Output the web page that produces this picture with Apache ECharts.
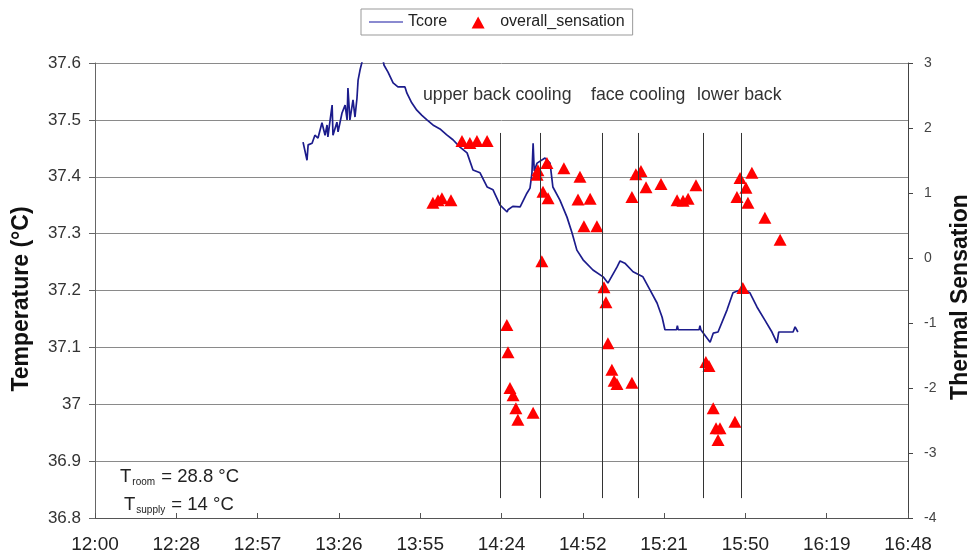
<!DOCTYPE html>
<html>
<head>
<meta charset="utf-8">
<script src="https://cdn.jsdelivr.net/npm/echarts@6/dist/echarts.min.js"></script>
<style>
  html, body { margin: 0; padding: 0; background: #fff; }
  #chart { width: 976px; height: 560px; }
</style>
</head>
<body>
<div id="chart"></div>
<script>
// ---- Data (time = minutes after 12:00) ----
const xTickLabels = ['12:00','12:28','12:57','13:26','13:55','14:24','14:52','15:21','15:50','16:19','16:48'];

const tcoreTime = [73.7,75.1,75.5,76.9,77.9,79.0,80.4,81.5,82.2,82.5,84.0,84.3,85.7,86.1,87.5,88.6,89.3,89.6,90.3,91.4,92.1,92.8,93.2,93.9,96,99,101,102.4,103.8,105.6,107.3,109.8,110.5,112.2,114.0,115.8,117.6,120.0,122.2,124.5,126.8,129.3,131.8,133.9,136.4,138.9,141.0,143.5,146.0,146.3,148.0,150.6,153.0,154.1,154.8,155.2,155.6,156.6,159.4,161.2,162.2,164.7,167.2,169.0,170.7,172.9,176.4,180.0,181.7,184.9,186.0,187.7,190.6,194.1,196.6,199.1,200.9,201.9,206.0,206.3,206.6,214.0,214.3,214.6,217.9,219.0,220.7,223.9,226.0,228.5,230.0,232.0,234.5,237.3,239.8,241.6,242.2,242.7,247.3,248.0,249.0];
const tcoreTemp = [37.461,37.429,37.456,37.459,37.473,37.468,37.495,37.473,37.491,37.470,37.526,37.473,37.496,37.479,37.512,37.526,37.500,37.556,37.500,37.535,37.505,37.538,37.570,37.588,37.63,37.66,37.63,37.596,37.584,37.565,37.558,37.558,37.547,37.530,37.517,37.508,37.500,37.490,37.484,37.474,37.465,37.452,37.442,37.412,37.407,37.382,37.377,37.350,37.338,37.342,37.348,37.347,37.371,37.380,37.407,37.459,37.410,37.424,37.433,37.424,37.382,37.359,37.329,37.301,37.271,37.254,37.236,37.224,37.213,37.241,37.252,37.248,37.233,37.224,37.201,37.178,37.153,37.131,37.131,37.138,37.131,37.131,37.138,37.131,37.109,37.125,37.127,37.166,37.196,37.201,37.201,37.196,37.171,37.148,37.127,37.108,37.127,37.127,37.127,37.136,37.127];

const sensTime = [119.7,121.5,122.9,126.1, 130.0,132.8,135.3,138.9, 145.9,146.3,147.0,148.1,149.1,149.8,155.2, 156.6,156.9,160.1,158.7,160.5,158.3, 166.1,171.8,171.1,175.4,173.2,177.8, 180.3,181.0,181.7,183.1,183.9,184.9,190.2, 191.6,193.4,190.2,195.2,200.5,206.2,208.3,210.1,212.9, 216.4,217.5,219.0,220.0,221.4,220.7,226.7, 228.5,232.7,230.6,227.4,231.3,237.3,242.7,229.5];
const sensValue = [0.85,0.89,0.92,0.89, 1.8,1.77,1.8,1.8, -1.03,-1.45,-2.0,-2.11,-2.31,-2.49,-2.38, 1.28,1.35,1.46,1.02,0.92,-0.05, 1.38,1.25,0.9,0.91,0.49,0.49, -0.45,-0.68,-1.31,-1.72,-1.89,-1.94,-1.92, 1.29,1.34,0.94,1.09,1.14,0.89,0.88,0.91,1.12, -1.6,-1.66,-2.31,-2.62,-2.62,-2.8,-2.52, 1.23,1.31,1.08,0.94,0.85,0.62,0.28,-0.46];

const coolingTimes = [143.5,157.6,179.6,192.4,215.4,228.8];
const coolingTop = 37.477, coolingBottom = 36.835;

const phaseLabels = ['upper back cooling', 'face cooling', 'lower back'];

// ---- Chart ----
const chart = echarts.init(document.getElementById('chart'), null, { renderer: 'canvas' });
const FONT = 'Liberation Sans, Arial, sans-serif';

const tcoreData = tcoreTime.map((t, i) => [t, tcoreTemp[i]]);
const sensData = sensTime.map((t, i) => [t, sensValue[i]]);
const markLines = coolingTimes.map(t => [{ coord: [t, coolingTop] }, { coord: [t, coolingBottom] }]);

const lineIcon = 'path://M0,0L0.01,0Z M0,6L34,6L34,8L0,8Z M34,14L33.99,14Z';
const triIcon = 'path://M0,0L0.01,0Z M10.5,13.5L17,1.5L23.5,13.5Z M34,14L33.99,14Z';

chart.setOption({
  animation: false,
  backgroundColor: '#fff',
  textStyle: { fontFamily: FONT },
  grid: { left: 95, right: 68, top: 63, bottom: 42, containLabel: false },
  legend: {
    left: 361, top: 9,
    padding: [5, 8, 5, 8],
    itemGap: 14,
    itemWidth: 34, itemHeight: 14,
    borderColor: '#999', borderWidth: 1,
    textStyle: { fontSize: 16, color: '#222', fontFamily: FONT },
    data: [
      { name: 'Tcore', icon: lineIcon, itemStyle: { color: '#8a8ad0', borderWidth: 0 } },
      { name: 'overall_sensation', icon: triIcon, itemStyle: { color: '#ff0000', borderWidth: 0 } }
    ]
  },
  xAxis: {
    type: 'value', min: 0, max: 288, interval: 28.8,
    axisLine: { show: true, onZero: false, lineStyle: { color: '#555', width: 1 } },
    axisTick: { show: true, inside: true, length: 5, lineStyle: { color: '#555' } },
    splitLine: { show: false },
    axisLabel: {
      margin: 17, fontSize: 19, color: '#222', fontFamily: FONT,
      formatter: v => xTickLabels[Math.round(v / 28.8)] || ''
    }
  },
  yAxis: [
    {
      type: 'value', min: 36.8, max: 37.6, interval: 0.1, position: 'left',
      axisLine: { show: true, onZero: false, lineStyle: { color: '#666', width: 1 } },
      axisTick: { show: true, inside: false, length: 6, lineStyle: { color: '#666' } },
      splitLine: { show: true, lineStyle: { color: '#8a8a8a', width: 1 } },
      axisLabel: {
        margin: 14, fontSize: 17, color: '#333', fontFamily: FONT,
        formatter: v => String(parseFloat(v.toFixed(1)))
      }
    },
    {
      type: 'value', min: -4, max: 3, interval: 1, position: 'right',
      axisLine: { show: true, onZero: false, lineStyle: { color: '#444', width: 1 } },
      axisTick: { show: true, inside: false, length: 5, lineStyle: { color: '#444' } },
      splitLine: { show: false },
      axisLabel: { margin: 16, fontSize: 14, color: '#444', fontFamily: FONT }
    }
  ],
  series: [
    {
      name: 'Tcore', type: 'line', yAxisIndex: 0,
      data: tcoreData,
      symbol: 'none', showSymbol: false, clip: true,
      lineStyle: { color: '#1c1c8c', width: 1.7 },
      itemStyle: { color: '#1c1c8c' },
      z: 3,
      markLine: {
        silent: true, symbol: ['none', 'none'], animation: false,
        label: { show: false },
        lineStyle: { color: '#333', width: 1, type: 'solid' },
        data: markLines
      }
    },
    {
      name: 'overall_sensation', type: 'scatter', yAxisIndex: 1,
      data: sensData,
      symbol: 'triangle', symbolSize: [13, 12],
      itemStyle: { color: '#ff0000', opacity: 1, borderWidth: 0 },
      z: 4
    }
  ],
  graphic: [
    { type: 'text', left: 423, top: 86, style: { text: phaseLabels[0], fontSize: 17.7, fill: '#333', fontFamily: FONT } },
    { type: 'text', left: 591, top: 86, style: { text: phaseLabels[1], fontSize: 17.7, fill: '#333', fontFamily: FONT } },
    { type: 'text', left: 697, top: 86, style: { text: phaseLabels[2], fontSize: 17.7, fill: '#333', fontFamily: FONT } },
    {
      type: 'text', x: 22, y: 299, rotation: Math.PI / 2,
      style: { text: 'Temperature (°C)', fontSize: 23, fontWeight: 'bold', fill: '#111', fontFamily: FONT, align: 'center', verticalAlign: 'middle' }
    },
    {
      type: 'text', x: 961, y: 297, rotation: Math.PI / 2,
      style: { text: 'Thermal Sensation', fontSize: 23, fontWeight: 'bold', fill: '#111', fontFamily: FONT, align: 'center', verticalAlign: 'middle' }
    },
    {
      type: 'text', left: 120, top: 467,
      style: {
        text: '{b|T}{s|room}{b| = 28.8 °C}',
        fontFamily: FONT,
        rich: {
          b: { fontSize: 18.5, fill: '#222', fontFamily: FONT, lineHeight: 22, verticalAlign: 'middle' },
          s: { fontSize: 10, fill: '#222', fontFamily: FONT, lineHeight: 22, verticalAlign: 'bottom', padding: [0, 1, 0, 1] }
        }
      }
    },
    {
      type: 'text', left: 124, top: 495,
      style: {
        text: '{b|T}{s|supply}{b| = 14 °C}',
        fontFamily: FONT,
        rich: {
          b: { fontSize: 18.5, fill: '#222', fontFamily: FONT, lineHeight: 22, verticalAlign: 'middle' },
          s: { fontSize: 10, fill: '#222', fontFamily: FONT, lineHeight: 22, verticalAlign: 'bottom', padding: [0, 1, 0, 1] }
        }
      }
    }
  ]
});
</script>
</body>
</html>
